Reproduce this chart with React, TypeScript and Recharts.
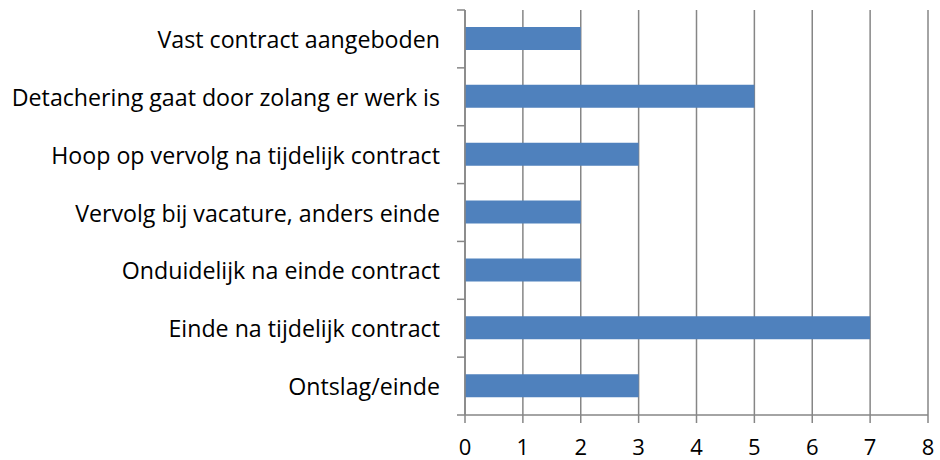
import { BarChart, Bar, XAxis, YAxis, CartesianGrid } from "recharts";

const categories = [
  "Vast contract aangeboden",
  "Detachering gaat door zolang er werk is",
  "Hoop op vervolg na tijdelijk contract",
  "Vervolg bij vacature, anders einde",
  "Onduidelijk na einde contract",
  "Einde na tijdelijk contract",
  "Ontslag/einde",
];
const counts = [2, 5, 3, 2, 2, 7, 3];
const xTicks = [0, 1, 2, 3, 4, 5, 6, 7, 8];

const data = categories.map((name, i) => ({ name, value: counts[i] }));

const GRAY = "#868686";
const FONT = "'Open Sans', Lato, sans-serif";

function CategoryTick(props: any) {
  const { x, y, payload, index, visibleTicksCount } = props;
  const half = payload?.offset ?? 0;
  const axisX = x + 25;
  const last = index === (visibleTicksCount ?? categories.length) - 1;
  return (
    <g>
      <line x1={axisX - 8} x2={axisX} y1={y - half} y2={y - half} stroke={GRAY} strokeWidth={1.5} />
      {last && (
        <line x1={axisX - 8} x2={axisX} y1={y + half} y2={y + half} stroke={GRAY} strokeWidth={1.5} />
      )}
      <text x={x} y={y} dy={9} textAnchor="end" fill="#000" fontSize={23.2} fontFamily={FONT}>
        {payload.value}
      </text>
    </g>
  );
}

export default function App() {
  return (
    <div style={{ position: "absolute", left: 0, top: 0, background: "#fff" }}>
      <BarChart
        width={940}
        height={460}
        data={data}
        layout="vertical"
        margin={{ top: 10, right: 12, bottom: 0, left: 0 }}
      >
        <CartesianGrid horizontal={false} vertical stroke={GRAY} strokeWidth={1.5} />
        <XAxis
          type="number"
          domain={[0, 8]}
          ticks={xTicks}
          interval={0}
          height={45}
          axisLine={{ stroke: GRAY, strokeWidth: 1.5 }}
          tickLine={{ stroke: GRAY, strokeWidth: 1.5 }}
          tickSize={8}
          tickMargin={16}
          tick={{ fill: "#000", fontSize: 22, fontFamily: FONT }}
        />
        <YAxis
          type="category"
          dataKey="name"
          width={465}
          interval={0}
          axisLine={{ stroke: GRAY, strokeWidth: 1.5 }}
          tickLine={false}
          tickSize={0}
          tickMargin={25}
          tick={<CategoryTick />}
        />
        <Bar dataKey="value" fill="#4F81BD" barSize={23} isAnimationActive={false} />
      </BarChart>
    </div>
  );
}
